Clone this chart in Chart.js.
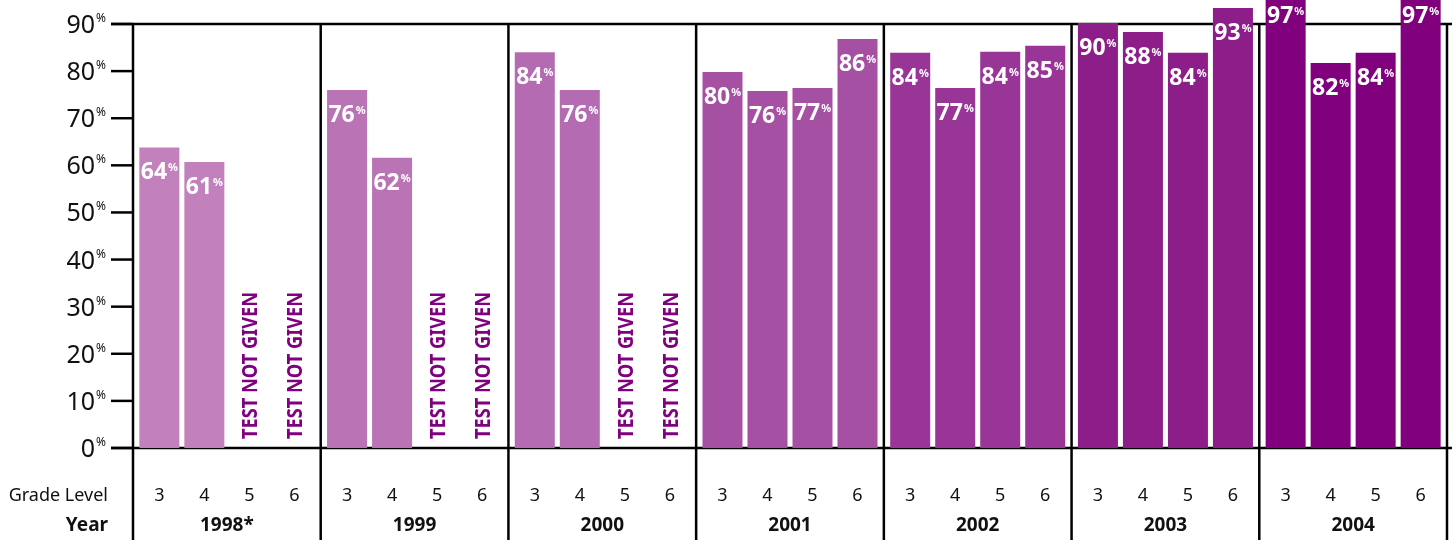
<!DOCTYPE html>
<html><head><meta charset="utf-8">
<script src="https://cdn.jsdelivr.net/npm/chart.js@4.4.1/dist/chart.umd.min.js"></script>
<style>html,body{margin:0;padding:0;background:#fff;overflow:hidden}#wrap{width:1452px;height:540px;position:relative}</style>
</head><body><div id="wrap"><canvas id="c" width="1452" height="540"></canvas></div>
<script>
const years = ['1998*','1999','2000','2001','2002','2003','2004'];
const gradeLevels = ['3','4','5','6'];
const grade3 = [63.8, 76, 84, 79.8, 83.9, 90.2, 97];
const grade4 = [60.7, 61.6, 76, 75.8, 76.4, 88.3, 81.7];
const grade5 = [null, null, null, 76.4, 84.1, 83.9, 83.9];
const grade6 = [null, null, null, 86.8, 85.4, 93.4, 97];
const grade3Labels = [64, 76, 84, 80, 84, 90, 97];
const grade4Labels = [61, 62, 76, 76, 77, 88, 82];
const grade5Labels = [null, null, null, 77, 84, 84, 84];
const grade6Labels = [null, null, null, 86, 85, 93, 97];
const yTickValues = [0,10,20,30,40,50,60,70,80,90];
const notGivenLabel = 'TEST NOT GIVEN';
const rowTitles = ['Grade Level','Year'];
const yearColors = ['#c281bd','#ba74b6','#b46bb2','#a650a4','#993597','#8c1d89','#80007e'];

const series = [grade3, grade4, grade5, grade6];
const seriesLabels = [grade3Labels, grade4Labels, grade5Labels, grade6Labels];

const FONT = "'Noto Sans', 'DejaVu Sans', sans-serif";

const framePlugin = {
  id: 'frame',
  beforeDatasetsDraw(chart) {
    const ctx = chart.ctx, xs = chart.scales.x, ys = chart.scales.y, ca = chart.chartArea;
    ctx.save();
    ctx.strokeStyle = '#000';
    ctx.lineWidth = 2.5;
    const tickLeft = ca.left - 22;
    yTickValues.forEach(v => {
      const y = ys.getPixelForValue(v);
      ctx.beginPath(); ctx.moveTo(tickLeft, y); ctx.lineTo(ca.left, y); ctx.stroke();
    });
    const yTop = ys.getPixelForValue(yTickValues[yTickValues.length - 1]);
    const yBot = ys.getPixelForValue(0);
    ctx.beginPath(); ctx.moveTo(tickLeft, yTop); ctx.lineTo(chart.width, yTop); ctx.stroke();
    ctx.beginPath(); ctx.moveTo(tickLeft, yBot); ctx.lineTo(chart.width, yBot); ctx.stroke();
    for (let g = 0; g <= years.length; g++) {
      const x = xs.getPixelForValue(g - 0.5);
      ctx.beginPath(); ctx.moveTo(x, yTop); ctx.lineTo(x, chart.height); ctx.stroke();
    }
    ctx.fillStyle = '#111';
    yTickValues.forEach(v => {
      const y = ys.getPixelForValue(v);
      ctx.font = `25px ${FONT}`;
      ctx.textAlign = 'right'; ctx.textBaseline = 'alphabetic';
      ctx.fillText(String(v), ca.left - 38, y + 9);
      ctx.font = `12px ${FONT}`;
      ctx.textAlign = 'left';
      ctx.fillText('%', ca.left - 37, y - 2);
    });
    ctx.font = `18px ${FONT}`;
    ctx.textAlign = 'right';
    ctx.fillText(rowTitles[0], ca.left - 25, 501);
    ctx.font = `bold 19px ${FONT}`;
    ctx.fillText(rowTitles[1], ca.left - 25, 531);
    ctx.textAlign = 'center';
    ctx.font = `18px ${FONT}`;
    series.forEach((s, d) => {
      const meta = chart.getDatasetMeta(d);
      meta.data.forEach(el => ctx.fillText(gradeLevels[d], el.x, 501));
    });
    ctx.font = `bold 19px ${FONT}`;
    years.forEach((yr, g) => ctx.fillText(yr, xs.getPixelForValue(g), 531));
    ctx.restore();
  },
  afterDatasetsDraw(chart) {
    const ctx = chart.ctx, ys = chart.scales.y;
    const y0 = ys.getPixelForValue(0);
    ctx.save();
    series.forEach((s, d) => {
      const meta = chart.getDatasetMeta(d);
      meta.data.forEach((el, i) => {
        const lab = seriesLabels[d][i];
        if (s[i] === null) {
          ctx.save();
          ctx.translate(el.x, y0 - 9);
          ctx.rotate(-Math.PI / 2);
          ctx.font = `bold 22px ${FONT}`;
          const w = ctx.measureText(notGivenLabel).width;
          ctx.scale(147 / w, 1);
          ctx.fillStyle = '#800080';
          ctx.textAlign = 'left'; ctx.textBaseline = 'alphabetic';
          ctx.fillText(notGivenLabel, 0, 8);
          ctx.restore();
          return;
        }
        ctx.font = `bold 23px ${FONT}`;
        const w1 = ctx.measureText(String(lab)).width;
        ctx.font = `bold 11px ${FONT}`;
        const w2 = ctx.measureText('%').width;
        const total = w1 + 1 + w2;
        const x0 = el.x - total / 2;
        const base = el.y + 32;
        ctx.fillStyle = '#fff';
        ctx.textAlign = 'left'; ctx.textBaseline = 'alphabetic';
        ctx.font = `bold 23px ${FONT}`;
        ctx.fillText(String(lab), x0, base);
        ctx.font = `bold 11px ${FONT}`;
        ctx.fillText('%', x0 + w1 + 1, base - 8);
      });
    });
    ctx.restore();
  }
};

new Chart(document.getElementById('c'), {
  type: 'bar',
  data: {
    labels: years,
    datasets: series.map((s, d) => ({
      label: gradeLevels[d],
      data: s,
      backgroundColor: yearColors,
      borderWidth: 0,
      barPercentage: 0.889,
      categoryPercentage: 0.959,
      clip: false
    }))
  },
  options: {
    responsive: false,
    animation: false,
    layout: { padding: { top: 24, right: 5, left: 0, bottom: 0 } },
    plugins: { legend: { display: false }, tooltip: { enabled: false } },
    scales: {
      x: {
        grid: { display: false }, border: { display: false },
        ticks: { display: false },
        afterFit(s) { s.height = 92; }
      },
      y: {
        min: 0, max: 90,
        grid: { display: false }, border: { display: false },
        ticks: { display: false, stepSize: 10 },
        afterFit(s) { s.width = 133; }
      }
    }
  },
  plugins: [framePlugin]
});
</script>
</body></html>
